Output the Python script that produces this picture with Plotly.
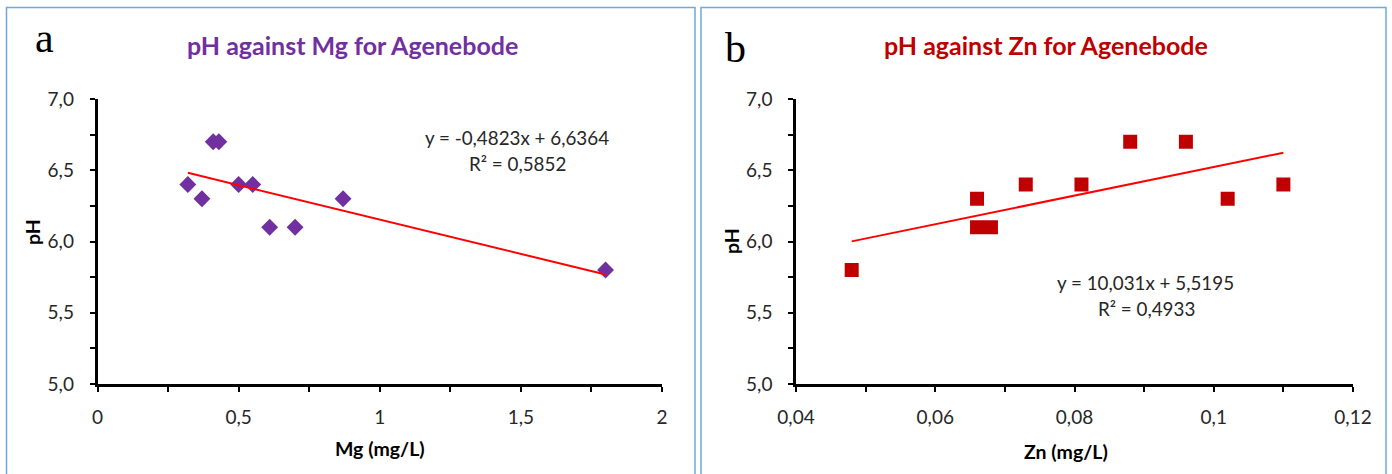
import plotly.graph_objects as go

# ---- data ----
mg = [0.32, 0.37, 0.41, 0.43, 0.50, 0.55, 0.61, 0.70, 0.87, 1.80]
ph_mg = [6.4, 6.3, 6.7, 6.7, 6.4, 6.4, 6.1, 6.1, 6.3, 5.8]
mg_slope, mg_intercept = -0.4823, 6.6364

zn = [0.048, 0.066, 0.066, 0.068, 0.073, 0.081, 0.088, 0.096, 0.102, 0.110]
ph_zn = [5.8, 6.3, 6.1, 6.1, 6.4, 6.4, 6.7, 6.7, 6.3, 6.4]
zn_slope, zn_intercept = 10.031, 5.5195

eq_mg = ["y = -0,4823x + 6,6364", "R² = 0,5852"]
eq_zn = ["y = 10,031x + 5,5195", "R² = 0,4933"]
titles = ["pH against Mg for Agenebode", "pH against Zn for Agenebode"]
xtitles = ["Mg (mg/L)", "Zn (mg/L)"]
panel_labels = ["a", "b"]

W, H = 1392, 474
def px(x): return x / W
def py(y): return 1 - y / H

PURPLE = "#7030A0"
DARKRED = "#C00000"
FONT = "Lato"
TXT = "#262626"

fig = go.Figure()

fig.add_trace(go.Scatter(x=mg, y=ph_mg, mode="markers", xaxis="x", yaxis="y",
                         marker=dict(symbol="diamond", size=13, color=PURPLE, line=dict(width=0)),
                         showlegend=False))
xl = [min(mg), max(mg)]
fig.add_trace(go.Scatter(x=xl, y=[mg_slope * v + mg_intercept for v in xl], mode="lines",
                         xaxis="x", yaxis="y", line=dict(color="#FF0000", width=2), showlegend=False))

fig.add_trace(go.Scatter(x=zn, y=ph_zn, mode="markers", xaxis="x2", yaxis="y2",
                         marker=dict(symbol="square", size=14, color=DARKRED, line=dict(width=0)),
                         showlegend=False))
xr = [min(zn), max(zn)]
fig.add_trace(go.Scatter(x=xr, y=[zn_slope * v + zn_intercept for v in xr], mode="lines",
                         xaxis="x2", yaxis="y2", line=dict(color="#FF0000", width=2), showlegend=False))

ydom = [py(384), py(99)]
common = dict(showline=True, linecolor="black", linewidth=2.5, ticks="outside", ticklen=5,
              tickwidth=1.5, tickcolor="black", showgrid=False, zeroline=False, automargin=False,
              tickfont=dict(family=FONT, size=19, color=TXT))
minor_common = dict(ticks="outside", ticklen=5, tickcolor="black", tickwidth=1.5)

fig.update_layout(
    template="none",
    width=W, height=H, margin=dict(l=0, r=0, t=0, b=0, autoexpand=False),
    paper_bgcolor="white", plot_bgcolor="white", separators=",.",
    xaxis=dict(domain=[px(97.5), px(662)], range=[0, 2], dtick=0.5, tick0=0, anchor="y",
               minor=dict(dtick=0.25, **minor_common), ticklabelstandoff=9, **common),
    yaxis=dict(domain=ydom, range=[5, 7], dtick=0.5, tick0=5, tickformat=".1f", anchor="x",
               minor=dict(dtick=0.25, **minor_common), ticklabelstandoff=12, **common),
    xaxis2=dict(domain=[px(796), px(1353)], range=[0.04, 0.12], dtick=0.02, tick0=0.04, anchor="y2",
                minor=dict(dtick=0.01, **minor_common), ticklabelstandoff=9, **common),
    yaxis2=dict(domain=ydom, range=[5, 7], dtick=0.5, tick0=5, tickformat=".1f", anchor="x2",
                minor=dict(dtick=0.25, **minor_common), ticklabelstandoff=12, **common),
)

# panel borders
border = "#6FA8DC"
fig.add_shape(type="rect", xref="paper", yref="paper", x0=px(6.5), x1=px(695), y0=-0.02, y1=py(7.5),
              line=dict(color=border, width=1.5))
fig.add_shape(type="rect", xref="paper", yref="paper", x0=px(701), x1=px(1386), y0=-0.02, y1=py(7.5),
              line=dict(color=border, width=1.5))

ann = []
def A(x, y, text, size, color=TXT, bold=False, family=FONT, angle=0):
    t = f"<b>{text}</b>" if bold else text
    ann.append(dict(x=px(x), y=py(y), xref="paper", yref="paper", text=t, showarrow=False,
                    xanchor="center", yanchor="middle", textangle=angle,
                    font=dict(family=family, size=size, color=color)))

A(44, 38, panel_labels[0], 42, color="black", family="Liberation Serif")
A(735, 48, panel_labels[1], 42, color="black", family="Liberation Serif")
A(352, 45, titles[0], 25, color=PURPLE, bold=True)
A(1046, 45, titles[1], 25, color=DARKRED, bold=True)
A(380, 448, xtitles[0], 19.5, color="black", bold=True)
A(1066, 451, xtitles[1], 19.5, color="black", bold=True)
A(32, 232, "pH", 19.5, color="black", bold=True, angle=-90)
A(731, 241, "pH", 19.5, color="black", bold=True, angle=-90)
A(517, 137, eq_mg[0], 18.8)
A(517, 163, eq_mg[1], 18.8)
A(1145, 282, eq_zn[0], 18.8)
A(1146, 308, eq_zn[1], 18.8)
fig.update_layout(annotations=ann)

fig.write_html("out.html", config={"displayModeBar": False},
               post_script="document.body.style.margin='0';")
